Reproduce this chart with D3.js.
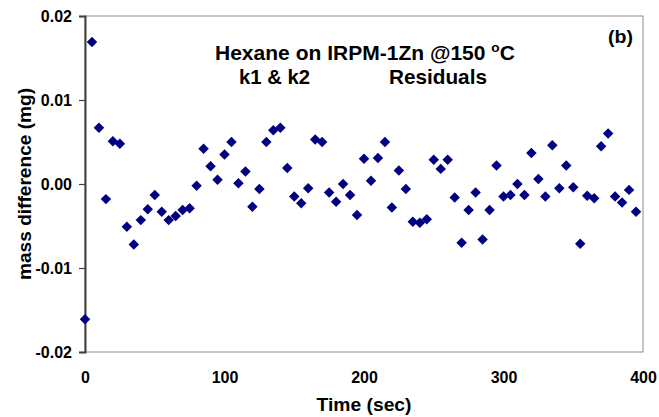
<!DOCTYPE html>
<html>
<head>
<meta charset="utf-8">
<script src="https://cdn.jsdelivr.net/npm/d3@7"></script>
<style>
  body { margin: 0; background: #fff; }
  svg text { font-family: "Liberation Sans", Arial, sans-serif; font-weight: bold; fill: #000; }
</style>
</head>
<body>
<svg id="chart" width="659" height="417"></svg>
<script>
// residuals sampled every 5 s
const times = d3.range(0, 400, 5);
const residuals = [
  -0.0161, 0.0169, 0.0067, -0.0018, 0.0051, 0.0048, -0.0051, -0.0072,
  -0.0043, -0.0030, -0.0013, -0.0033, -0.0043, -0.0038, -0.0031, -0.0029,
  -0.0002, 0.0042, 0.0021, 0.0005, 0.0035, 0.0050, 0.0001, 0.0015,
  -0.0027, -0.0006, 0.0050, 0.0064, 0.0067, 0.0019, -0.0015, -0.0023,
  -0.0005, 0.0053, 0.0050, -0.0010, -0.0021, 0.0000, -0.0013, -0.0037,
  0.0030, 0.0004, 0.0031, 0.0050, -0.0028, 0.0016, -0.0006, -0.0045,
  -0.0046, -0.0042, 0.0029, 0.0018, 0.0029, -0.0016, -0.0070, -0.0031,
  -0.0010, -0.0066, -0.0031, 0.0022, -0.0015, -0.0013, 0.0000, -0.0013,
  0.0037, 0.0006, -0.0015, 0.0046, -0.0005, 0.0022, -0.0004, -0.0071,
  -0.0014, -0.0017, 0.0045, 0.0060, -0.0015, -0.0022, -0.0007, -0.0033
];
const yTicks = [0.02, 0.01, 0, -0.01, -0.02];
const yTickLabels = ["0.02", "0.01", "0.00", "-0.01", "-0.02"];
const xTicks = [0, 100, 200, 300, 400];

const svg = d3.select("#chart");
const m = { left: 85, right: 643, top: 16, bottom: 352 };

const x = d3.scaleLinear().domain([0, 400]).range([m.left, m.right]);
const y = d3.scaleLinear().domain([-0.02, 0.02]).range([m.bottom, m.top]);

// stretch a text horizontally so it spans the given width (Excel's text is a bit wider)
function fitWidth(sel, x0, w) {
  const nat = sel.node().getBBox().width;
  const s = w / nat;
  sel.attr("transform", `translate(${x0},0) scale(${s},1) translate(${-x0},0)`);
}

// plot frame
svg.append("rect")
  .attr("x", m.left).attr("y", m.top)
  .attr("width", m.right - m.left).attr("height", m.bottom - m.top)
  .attr("fill", "none").attr("stroke", "#8c8c8c").attr("stroke-width", 1);

// y axis
const yAxis = svg.append("g")
  .attr("transform", `translate(${m.left},0)`)
  .call(d3.axisLeft(y).tickValues(yTicks).tickSize(6).tickPadding(7)
    .tickFormat((d, i) => yTickLabels[i]));
yAxis.select(".domain").attr("stroke", "#404040").attr("stroke-width", 2);
yAxis.selectAll(".tick line").attr("stroke", "#404040").attr("stroke-width", 1.2);
yAxis.selectAll("text").attr("font-size", 16).attr("font-family", null).attr("fill", "#000");

// x axis
const xAxis = svg.append("g")
  .attr("transform", `translate(0,${m.bottom})`)
  .call(d3.axisBottom(x).tickValues(xTicks).tickSize(0).tickPadding(20));
xAxis.select(".domain").remove();
xAxis.selectAll("text").attr("font-size", 16).attr("font-family", null).attr("fill", "#000");

// markers
const pts = times.map((t, i) => ({ t, v: residuals[i] }));
svg.append("g").selectAll("path")
  .data(pts).join("path")
  .attr("d", d3.symbol(d3.symbolDiamond2, 70))
  .attr("transform", d => `translate(${x(d.t)},${y(d.v)})`)
  .attr("fill", "#000080");

// axis titles
svg.append("text")
  .attr("x", 364).attr("y", 411)
  .attr("text-anchor", "middle").attr("font-size", 19)
  .attr("textLength", 95).attr("lengthAdjust", "spacingAndGlyphs")
  .text("Time (sec)");
svg.append("text")
  .attr("transform", "translate(31,184) rotate(-90)")
  .attr("text-anchor", "middle").attr("font-size", 19)
  .attr("textLength", 192).attr("lengthAdjust", "spacingAndGlyphs")
  .text("mass difference (mg)");

// annotations
const t1 = svg.append("text")
  .attr("x", 215).attr("y", 60).attr("font-size", 20);
t1.append("tspan").text("Hexane on IRPM-1Zn @150 ");
t1.append("tspan").attr("font-size", 13).attr("dy", -8).text("o");
t1.append("tspan").attr("dy", 8).text("C");
fitWidth(t1, 215, 300);

const k = svg.append("text").attr("x", 239).attr("y", 84).attr("font-size", 20).text("k1 & k2");
fitWidth(k, 239, 71);
const r = svg.append("text").attr("x", 389).attr("y", 84).attr("font-size", 20).text("Residuals");
fitWidth(r, 389, 98);
const b = svg.append("text").attr("x", 608).attr("y", 43).attr("font-size", 19).text("(b)");
fitWidth(b, 608, 25);
</script>
</body>
</html>
